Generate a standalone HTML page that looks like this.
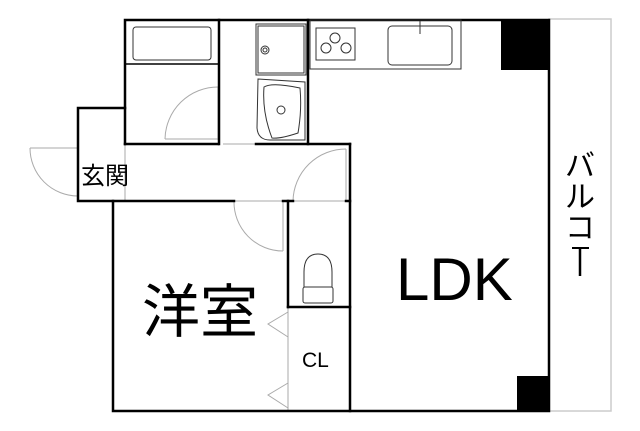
<!DOCTYPE html>
<html><head><meta charset="utf-8"><style>
html,body{margin:0;padding:0;background:#fff;width:640px;height:431px;overflow:hidden}
svg{display:block}
text{font-family:"Liberation Sans","Noto Sans CJK JP",sans-serif;fill:#000}
</style></head><body>
<svg width="640" height="431" viewBox="0 0 640 431" xmlns="http://www.w3.org/2000/svg">
<rect x="549" y="19" width="62" height="392" fill="none" stroke="#ccc" stroke-width="1.5"/>
<g stroke="#aaa" stroke-width="1" fill="none">
<line x1="125" y1="144" x2="125" y2="201"/>
<line x1="223" y1="144" x2="256" y2="144"/>
<line x1="234" y1="201" x2="283" y2="201"/>
<line x1="293" y1="201" x2="346" y2="201"/>
<line x1="218" y1="87" x2="218" y2="140"/>
<line x1="165" y1="139" x2="218" y2="139"/>
<path d="M165 139 A53 53 0 0 1 218 87"/>
<line x1="30" y1="148" x2="78" y2="148"/>
<path d="M30 148 A48 48 0 0 0 78 196"/>
<line x1="283" y1="201" x2="283" y2="251"/>
<path d="M234 201 A49 49 0 0 0 283 251"/>
<line x1="346" y1="149" x2="346" y2="201"/>
<path d="M293 201 A53 53 0 0 1 346 149"/>
<line x1="288" y1="307" x2="288" y2="411"/>
<polyline points="288,312 268,324 288,337"/>
<polyline points="288,383 268,395 288,408"/>
</g>
<g stroke="#000" stroke-width="2.5" fill="none" stroke-linecap="square">
<polyline points="125,144 125,20 549,20 549,411 113,411 113,201 234,201"/>
<line x1="283" y1="201" x2="293" y2="201"/>
<line x1="346" y1="201" x2="350" y2="201"/>
<polyline points="125,108 78,108 78,201 113,201"/>
<line x1="125" y1="144" x2="218" y2="144"/>
<line x1="256" y1="144" x2="350" y2="144"/>
<line x1="350" y1="144" x2="350" y2="411"/>
<line x1="219" y1="20" x2="219" y2="144"/>
<line x1="308" y1="20" x2="308" y2="144"/>
<line x1="288" y1="201" x2="288" y2="307"/>
<line x1="288" y1="307" x2="350" y2="307"/>
</g>
<rect x="501" y="20" width="48" height="50" fill="#000"/>
<rect x="517" y="376" width="32" height="35" fill="#000"/>
<g stroke="#333" stroke-width="1" fill="none">
<line x1="125" y1="64" x2="219" y2="64" stroke="#000" stroke-width="1.5"/>
<rect x="133" y="27" width="78" height="33" rx="3"/>
<rect x="256" y="24" width="50" height="51"/>
<rect x="258" y="26" width="46" height="47"/>
<circle cx="265" cy="50" r="4"/><circle cx="265" cy="50" r="2"/>
<path d="M258 79 L305 82 L305 140 L270 140 Q258 140 257 128 Z"/>
<path d="M264 87 Q272 82 300 88 Q302 110 298 133 Q280 139 272 138 Q262 112 264 87 Z"/>
<circle cx="281" cy="110" r="4"/>
<rect x="310" y="20" width="151" height="49"/>
<rect x="316" y="28" width="39" height="32"/>
<circle cx="335" cy="38" r="5"/><circle cx="326" cy="48" r="5"/><circle cx="346" cy="48" r="5"/>
<rect x="388" y="26" width="64" height="39" rx="4"/>
<line x1="420" y1="21" x2="420" y2="34"/>
<path d="M304 287 L304 272 Q304 254 318 254 Q332 254 332 272 L332 287"/>
<rect x="303" y="287" width="30" height="16" rx="2"/>
</g>
<text x="81" y="184" font-size="24">玄関</text>
<text x="142" y="332" font-size="58">洋室</text>
<text x="396" y="300" font-size="60">LDK</text>
<text x="302" y="367" font-size="21">CL</text>
<text font-size="30" x="565" y="176">バ</text>
<text font-size="30" x="565" y="207">ル</text>
<text font-size="30" x="565" y="238">コ</text>
<line x1="580" y1="248" x2="580" y2="276" stroke="#000" stroke-width="2.5"/>
<line x1="572" y1="248" x2="589" y2="248" stroke="#000" stroke-width="2"/>
</svg>
</body></html>
